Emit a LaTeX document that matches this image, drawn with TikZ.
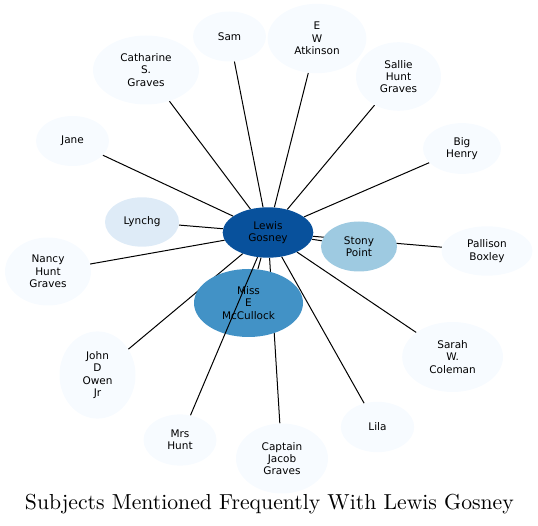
\documentclass[tikz,border=0pt]{standalone}
\usepackage{fontspec}
\setsansfont{DejaVu Sans}
\newfontfamily\titlefont{lmroman10-regular.otf}
\usetikzlibrary{shapes.geometric,backgrounds}
\definecolor{bA}{HTML}{F7FBFF}
\definecolor{bB}{HTML}{DEEBF7}
\definecolor{bD}{HTML}{9ECAE1}
\definecolor{bF}{HTML}{4292C6}
\definecolor{bH}{HTML}{08519C}
\begin{document}
\begin{tikzpicture}[x=1pt,y=-1pt,
  nd/.style={ellipse, inner sep=0pt, font=\sffamily\fontsize{10.5}{12.3}\selectfont, align=center, text=black, fill=bA},
  edge/.style={line width=1pt, black}]
\useasboundingbox (0,0) rectangle (538,526);
\node[nd, fill=bH, minimum width=90.6pt, minimum height=50.4pt] (lewis) at (268,232.5) {Lewis\\Gosney};
\node[nd, fill=bD, minimum width=76pt, minimum height=50pt] (stony) at (359,246.5) {Stony\\Point};
\node[nd, fill=bF, minimum width=109pt, minimum height=68pt] (mccul) at (248.5,303) {Miss\\E\\McCullock};
\node[nd, fill=bB, minimum width=74pt, minimum height=49.4pt] (lynchg) at (142,222) {Lynchg};
\node[nd, minimum width=73pt, minimum height=50pt] (jane) at (72.5,141) {Jane};
\node[nd, minimum width=106pt, minimum height=69pt] (cath) at (146,70) {Catharine\\S.\\Graves};
\node[nd, minimum width=73pt, minimum height=50pt] (sam) at (229.5,36.5) {Sam};
\node[nd, minimum width=98.8pt, minimum height=69.4pt] (atk) at (317,38.5) {E\\W\\Atkinson};
\node[nd, minimum width=85pt, minimum height=68.6pt] (sallie) at (398.5,76.5) {Sallie\\Hunt\\Graves};
\node[nd, minimum width=78pt, minimum height=50.8pt] (henry) at (462,148.5) {Big\\Henry};
\node[nd, minimum width=91pt, minimum height=49.4pt] (pallison) at (487,251) {Pallison\\Boxley};
\node[nd, minimum width=100.8pt, minimum height=70pt] (sarah) at (452.6,357) {Sarah\\W.\\Coleman};
\node[nd, minimum width=73.4pt, minimum height=50.4pt] (lila) at (377.5,427) {Lila};
\node[nd, minimum width=92pt, minimum height=70pt] (captain) at (282,458.5) {Captain\\Jacob\\Graves};
\node[nd, minimum width=73pt, minimum height=51.2pt] (mrshunt) at (180,440) {Mrs\\Hunt};
\node[nd, minimum width=76pt, minimum height=87.2pt] (john) at (97.5,375) {John\\D\\Owen\\Jr};
\node[nd, minimum width=86pt, minimum height=68pt] (nancy) at (48,271.5) {Nancy\\Hunt\\Graves};
\begin{pgfonlayer}{background}
\foreach \t in {stony,mccul,lynchg,jane,cath,sam,atk,sallie,henry,pallison,sarah,lila,captain,john,nancy}
  \draw[edge] (lewis) -- (\t);
\end{pgfonlayer}
\draw[edge] (lewis) -- (mrshunt);
\node[anchor=base, font=\titlefont\fontsize{21.7}{26}\selectfont, inner sep=0pt] (title) at (269.4,509.5) {Subjects Mentioned Frequently With Lewis Gosney};
\end{tikzpicture}
\end{document}
